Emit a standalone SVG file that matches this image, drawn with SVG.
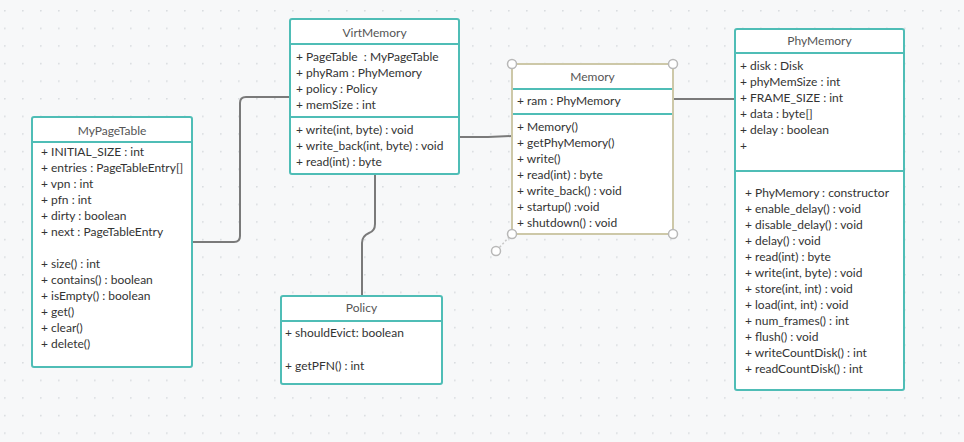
<svg xmlns="http://www.w3.org/2000/svg" width="964" height="442" viewBox="0 0 964 442">
<defs>
<pattern id="grid" x="4" y="10" width="18" height="17.6" patternUnits="userSpaceOnUse">
<circle cx="0.8" cy="0.8" r="0.9" fill="#d8dbdf"/>
</pattern>
</defs>
<style>
.box{fill:#ffffff;stroke:#4fbdb6;stroke-width:2}
.sep{stroke:#4fbdb6;stroke-width:2}
.sel{fill:#ffffff;stroke:#cdc8a8;stroke-width:2}
.title{font-family:Lato,"Liberation Sans",sans-serif;font-size:12px;fill:#555;text-anchor:middle}
.t{font-family:Lato,"Liberation Sans",sans-serif;font-size:12px;fill:#333}
.conn{fill:none;stroke:#7a7a7a;stroke-width:2}
.handle{fill:#ffffff;stroke:#b8b8b8;stroke-width:1.5}
</style>
<rect width="964" height="442" fill="#f7f8f9"/>
<rect width="964" height="442" fill="url(#grid)"/>
<g id="connectors">
<path class="conn" d="M192,242 H234 Q240,242 240,236 V103 Q240,97 246,97 H290"/>
<path class="conn" d="M459,137 H488 L512,136"/>
<path class="conn" d="M375,164 V224 Q375,231 369,233 Q362,236 362,243 V296"/>
<path class="conn" d="M673,99 H735"/>
</g>
<g id="MyPageTable">
<rect class="box" x="32" y="117" width="160" height="250" rx="2"/>
<line class="sep" x1="32" y1="142" x2="192" y2="142"/>
<text class="title" x="112" y="135">MyPageTable</text>
<text class="t" x="41" y="156">+ INITIAL_SIZE : int</text>
<text class="t" x="41" y="172">+ entries : PageTableEntry[]</text>
<text class="t" x="41" y="188">+ vpn : int</text>
<text class="t" x="41" y="204">+ pfn : int</text>
<text class="t" x="41" y="220">+ dirty : boolean</text>
<text class="t" x="41" y="236">+ next : PageTableEntry</text>
<text class="t" x="41" y="268">+ size() : int</text>
<text class="t" x="41" y="284">+ contains() : boolean</text>
<text class="t" x="41" y="300">+ isEmpty() : boolean</text>
<text class="t" x="41" y="316">+ get()</text>
<text class="t" x="41" y="332">+ clear()</text>
<text class="t" x="41" y="348">+ delete()</text>
</g>
<g id="VirtMemory">
<rect class="box" x="290" y="19" width="169" height="155" rx="2"/>
<line class="sep" x1="290" y1="44" x2="459" y2="44"/>
<line class="sep" x1="290" y1="117" x2="459" y2="117"/>
<text class="title" x="374.5" y="37">VirtMemory</text>
<text class="t" x="296" y="61" xml:space="preserve">+ PageTable  : MyPageTable</text>
<text class="t" x="296" y="77">+ phyRam : PhyMemory</text>
<text class="t" x="296" y="93">+ policy : Policy</text>
<text class="t" x="296" y="109">+ memSize : int</text>
<text class="t" x="296" y="134">+ write(int, byte) : void</text>
<text class="t" x="296" y="150">+ write_back(int, byte) : void</text>
<text class="t" x="296" y="166">+ read(int) : byte</text>
</g>
<g id="Memory">
<rect class="sel" x="512" y="64" width="161" height="170"/>
<line class="sep" x1="513" y1="89" x2="672" y2="89"/>
<line class="sep" x1="513" y1="114" x2="672" y2="114"/>
<text class="title" x="592.5" y="81">Memory</text>
<text class="t" x="517" y="105">+ ram : PhyMemory</text>
<text class="t" x="517" y="131">+ Memory()</text>
<text class="t" x="517" y="147">+ getPhyMemory()</text>
<text class="t" x="517" y="163">+ write()</text>
<text class="t" x="517" y="179">+ read(int) : byte</text>
<text class="t" x="517" y="195">+ write_back() : void</text>
<text class="t" x="517" y="211">+ startup() :void</text>
<text class="t" x="517" y="227">+ shutdown() : void</text>
<line x1="512" y1="234" x2="497" y2="250" stroke="#c8c8c8" stroke-width="1.5" stroke-dasharray="2,2"/>
<circle class="handle" cx="512" cy="64" r="4.5"/>
<circle class="handle" cx="673" cy="64" r="4.5"/>
<circle class="handle" cx="512" cy="234" r="4.5"/>
<circle class="handle" cx="673" cy="234" r="4.5"/>
<circle class="handle" cx="496" cy="251" r="4.5"/>
</g>
<g id="Policy">
<rect class="box" x="281" y="296" width="161" height="88" rx="2"/>
<line class="sep" x1="281" y1="321" x2="442" y2="321"/>
<text class="title" x="361.5" y="312">Policy</text>
<text class="t" x="285" y="337">+ shouldEvict: boolean</text>
<text class="t" x="285" y="370">+ getPFN() : int</text>
</g>
<g id="PhyMemory">
<rect class="box" x="735" y="29" width="169" height="361" rx="2"/>
<line class="sep" x1="735" y1="53" x2="904" y2="53"/>
<line class="sep" x1="735" y1="171" x2="904" y2="171"/>
<text class="title" x="819.5" y="45">PhyMemory</text>
<text class="t" x="740" y="70">+ disk : Disk</text>
<text class="t" x="740" y="86">+ phyMemSize : int</text>
<text class="t" x="740" y="102">+ FRAME_SIZE : int</text>
<text class="t" x="740" y="118">+ data : byte[]</text>
<text class="t" x="740" y="134">+ delay : boolean</text>
<text class="t" x="740" y="150">+</text>
<text class="t" x="745" y="197">+ PhyMemory : constructor</text>
<text class="t" x="745" y="213">+ enable_delay() : void</text>
<text class="t" x="745" y="229">+ disable_delay() : void</text>
<text class="t" x="745" y="245">+ delay() : void</text>
<text class="t" x="745" y="261">+ read(int) : byte</text>
<text class="t" x="745" y="277">+ write(int, byte) : void</text>
<text class="t" x="745" y="293">+ store(int, int) : void</text>
<text class="t" x="745" y="309">+ load(int, int) : void</text>
<text class="t" x="745" y="325">+ num_frames() : int</text>
<text class="t" x="745" y="341">+ flush() : void</text>
<text class="t" x="745" y="357">+ writeCountDisk() : int</text>
<text class="t" x="745" y="373">+ readCountDisk() : int</text>
</g>
</svg>
